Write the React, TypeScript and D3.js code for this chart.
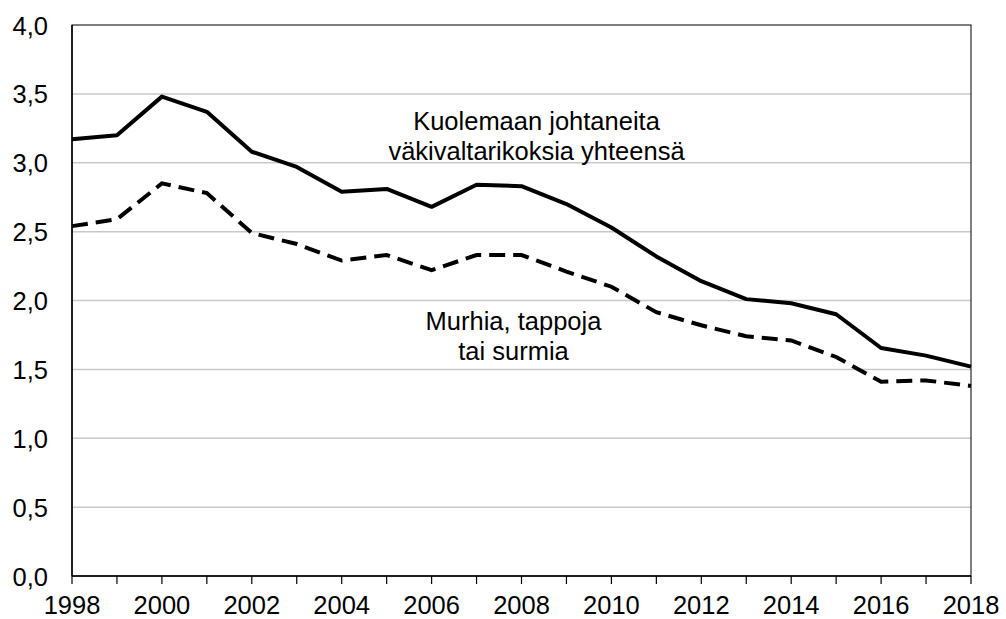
import React, { useEffect, useRef } from "react";
import * as d3 from "d3";

// vuodet ja sarjat (per 100 000 asukasta)
const years = d3.range(1998, 2019);
const totalSeries = [
  3.17, 3.2, 3.48, 3.37, 3.08, 2.97, 2.79, 2.81, 2.68, 2.84, 2.83, 2.7, 2.53,
  2.32, 2.14, 2.01, 1.98, 1.9, 1.655, 1.6, 1.52,
];
const murderSeries = [
  2.54, 2.59, 2.85, 2.78, 2.49, 2.41, 2.29, 2.33, 2.22, 2.33, 2.33, 2.21, 2.1,
  1.915, 1.82, 1.74, 1.71, 1.59, 1.41, 1.42, 1.38,
];
const yTicks = [0, 0.5, 1, 1.5, 2, 2.5, 3, 3.5, 4];
const xLabels = [1998, 2000, 2002, 2004, 2006, 2008, 2010, 2012, 2014, 2016, 2018];
const totalLabel = ["Kuolemaan johtaneita", "väkivaltarikoksia yhteensä"];
const murderLabel = ["Murhia, tappoja", "tai surmia"];

const App = () => {
  const svgRef = useRef<SVGSVGElement>(null);

  useEffect(() => {
    const width = 1006;
    const height = 619;
    const left = 72;
    const right = 971;
    const top = 25;
    const bottom = 576;

    const svg = d3.select(svgRef.current);
    svg.selectAll("*").remove();
    svg
      .attr("width", width)
      .attr("height", height)
      .style("position", "absolute")
      .style("left", "0px")
      .style("top", "0px")
      .style("background", "#fff");

    const font = "Arial, 'Liberation Sans', sans-serif";
    const fs = 25.5;

    const x = d3.scaleLinear().domain([1998, 2018]).range([left, right]);
    const y = d3.scaleLinear().domain([0, 4]).range([bottom, top]);

    // vaakaviivat
    svg
      .append("g")
      .selectAll("line")
      .data(yTicks.filter((d) => d > 0 && d < 4))
      .enter()
      .append("line")
      .attr("x1", left)
      .attr("x2", right)
      .attr("y1", (d) => y(d))
      .attr("y2", (d) => y(d))
      .attr("stroke", "#c8c8c8")
      .attr("stroke-width", 1.5);

    // kehys
    svg
      .append("rect")
      .attr("x", left)
      .attr("y", top)
      .attr("width", right - left)
      .attr("height", bottom - top)
      .attr("fill", "none")
      .attr("stroke", "#000")
      .attr("stroke-width", 1);

    svg
      .append("line")
      .attr("x1", left)
      .attr("x2", left)
      .attr("y1", top)
      .attr("y2", bottom)
      .attr("stroke", "#000")
      .attr("stroke-width", 1.5);
    svg
      .append("line")
      .attr("x1", left)
      .attr("x2", right)
      .attr("y1", bottom)
      .attr("y2", bottom)
      .attr("stroke", "#000")
      .attr("stroke-width", 1.5);

    // x-akselin tikit
    svg
      .append("g")
      .selectAll("line")
      .data(years)
      .enter()
      .append("line")
      .attr("x1", (d) => x(d))
      .attr("x2", (d) => x(d))
      .attr("y1", bottom)
      .attr("y2", bottom + 8)
      .attr("stroke", "#000")
      .attr("stroke-width", 1.2);

    svg
      .append("g")
      .selectAll("text")
      .data(xLabels)
      .enter()
      .append("text")
      .attr("x", (d) => x(d))
      .attr("y", 614)
      .attr("text-anchor", "middle")
      .attr("font-family", font)
      .attr("font-size", fs)
      .attr("fill", "#000")
      .text((d) => String(d));

    svg
      .append("g")
      .selectAll("text")
      .data(yTicks)
      .enter()
      .append("text")
      .attr("x", 48)
      .attr("y", (d) => y(d) + 9.5)
      .attr("text-anchor", "end")
      .attr("font-family", font)
      .attr("font-size", fs)
      .attr("fill", "#000")
      .text((d) => d.toFixed(1).replace(".", ","));

    const line = d3
      .line<number>()
      .x((_, i) => x(years[i]))
      .y((d) => y(d));

    svg
      .append("path")
      .datum(murderSeries)
      .attr("d", line)
      .attr("fill", "none")
      .attr("stroke", "#000")
      .attr("stroke-width", 4)
      .attr("stroke-dasharray", "16 8");

    svg
      .append("path")
      .datum(totalSeries)
      .attr("d", line)
      .attr("fill", "none")
      .attr("stroke", "#000")
      .attr("stroke-width", 4)
      .attr("stroke-linejoin", "round");

    const addLabel = (lines: string[], cx: number, y0: number) => {
      svg
        .append("g")
        .selectAll("text")
        .data(lines)
        .enter()
        .append("text")
        .attr("x", cx)
        .attr("y", (_, i) => y0 + i * 30)
        .attr("text-anchor", "middle")
        .attr("font-family", font)
        .attr("font-size", fs)
        .attr("fill", "#000")
        .text((d) => d);
    };

    addLabel(totalLabel, 536.5, 130);
    addLabel(murderLabel, 513.5, 330);
  }, []);

  return <svg ref={svgRef}></svg>;
};

export default App;
